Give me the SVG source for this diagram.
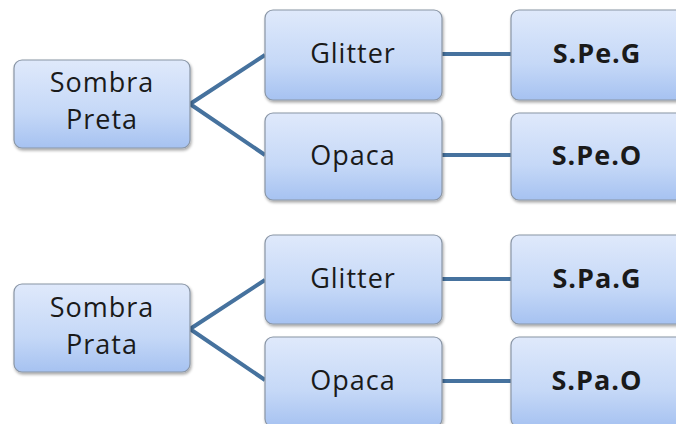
<svg xmlns="http://www.w3.org/2000/svg" width="676" height="424" viewBox="0 0 676 424">
<defs>
<linearGradient id="g" x1="0" y1="0" x2="0" y2="1">
<stop offset="0" stop-color="#dfe9fb"/>
<stop offset="0.6" stop-color="#c5d8f7"/>
<stop offset="1" stop-color="#a6c2f1"/>
</linearGradient>
<filter id="sh" x="-10%" y="-10%" width="125%" height="130%">
<feGaussianBlur in="SourceAlpha" stdDeviation="1.5"/>
<feOffset dx="1" dy="2" result="b"/>
<feComponentTransfer><feFuncA type="linear" slope="0.35"/></feComponentTransfer>
<feMerge><feMergeNode/><feMergeNode in="SourceGraphic"/></feMerge>
</filter>
</defs>
<style>
.box{fill:url(#g);stroke:#8a96a6;stroke-width:1.2;filter:url(#sh)}
.t{font-family:"Open Sans","Liberation Sans",sans-serif;font-size:27px;letter-spacing:1px;fill:#1a1a1a;text-anchor:middle}
.b{font-weight:bold}
.c{stroke:#46729e;stroke-width:4;fill:none;stroke-linecap:butt}
</style>
<g id="connectors">
<path class="c" d="M190 104 L265 55 M190 104 L265 155"/>
<path class="c" d="M442 54 L511 54 M442 155 L511 155"/>
<path class="c" d="M190 329 L265 280 M190 329 L265 380"/>
<path class="c" d="M442 279 L511 279 M442 381 L511 381"/>
</g>
<g id="sombra-preta"><rect class="box" x="14" y="60" width="176" height="88" rx="8"/><text class="t" x="102" y="92">Sombra</text><text class="t" x="102" y="129">Preta</text></g>
<g id="glitter1"><rect class="box" x="265" y="10" width="177" height="90" rx="8"/><text class="t" x="353" y="63">Glitter</text></g>
<g id="opaca1"><rect class="box" x="265" y="113" width="177" height="87" rx="8"/><text class="t" x="353" y="165">Opaca</text></g>
<g id="spe-g"><rect class="box" x="511" y="10" width="177" height="90" rx="8"/><text class="t b" x="597" y="63">S.Pe.G</text></g>
<g id="spe-o"><rect class="box" x="511" y="113" width="177" height="87" rx="8"/><text class="t b" x="597" y="165">S.Pe.O</text></g>
<g id="sombra-prata"><rect class="box" x="14" y="284" width="176" height="88" rx="8"/><text class="t" x="102" y="317">Sombra</text><text class="t" x="102" y="354">Prata</text></g>
<g id="glitter2"><rect class="box" x="265" y="235" width="177" height="89" rx="8"/><text class="t" x="353" y="288">Glitter</text></g>
<g id="opaca2"><rect class="box" x="265" y="337" width="177" height="90" rx="8"/><text class="t" x="353" y="390">Opaca</text></g>
<g id="spa-g"><rect class="box" x="511" y="235" width="177" height="89" rx="8"/><text class="t b" x="597" y="288">S.Pa.G</text></g>
<g id="spa-o"><rect class="box" x="511" y="337" width="177" height="90" rx="8"/><text class="t b" x="597" y="390">S.Pa.O</text></g>
</svg>
